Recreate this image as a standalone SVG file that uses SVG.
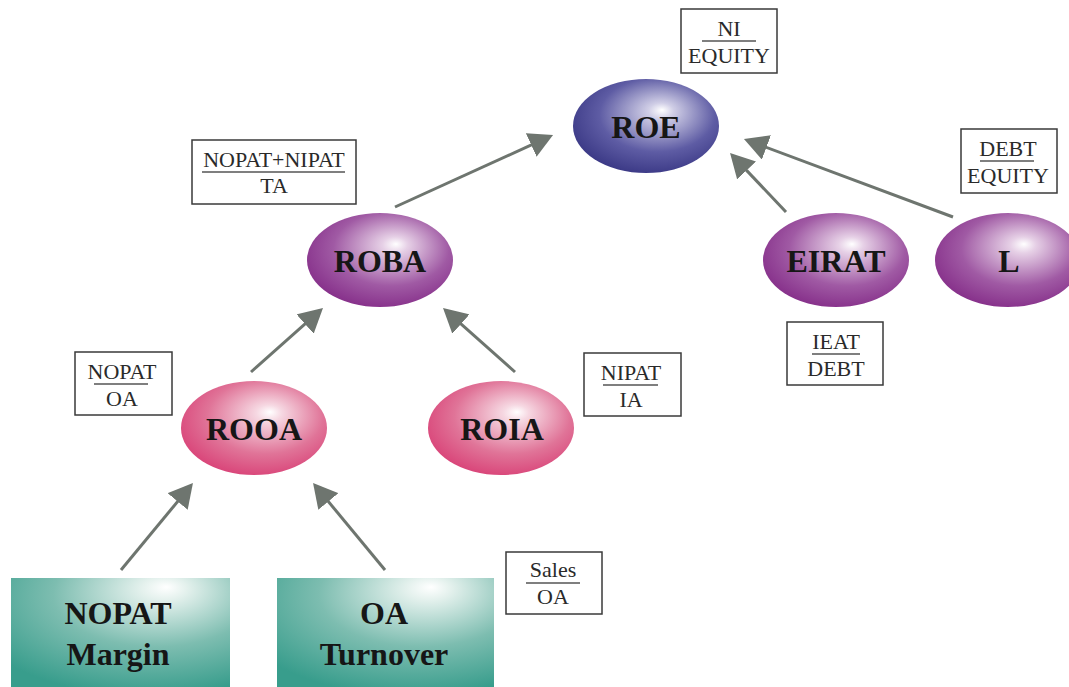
<svg xmlns="http://www.w3.org/2000/svg" width="1069" height="687" viewBox="0 0 1069 687">
  <style>
    .node-label { font-family: "Liberation Serif", "Times New Roman", serif; font-weight: bold; font-size: 32px; fill: #161616; text-anchor: middle; }
    .frac { font-family: "Liberation Serif", "Times New Roman", serif; font-size: 22px; fill: #2a2a2a; text-anchor: middle; }
    .box { fill: #ffffff; stroke: #3a3a3a; stroke-width: 1.5; }
    .bar { stroke: #555555; stroke-width: 1.3; }
    .conn { stroke: #6e756f; stroke-width: 3; fill: none; marker-end: url(#arrow); }
  </style>
  <defs>
    <marker id="arrow" viewBox="0 0 24 26" refX="20" refY="13" markerWidth="24" markerHeight="26" markerUnits="userSpaceOnUse" orient="auto">
      <path d="M0,0 L24,13 L0,26 Z" fill="#6e756f"/>
    </marker>
    <radialGradient id="gBlue" cx="0.55" cy="0.42" r="0.72" fx="0.61" fy="0.33">
      <stop offset="0" stop-color="#ffffff"/>
      <stop offset="0.12" stop-color="#d0cee6"/>
      <stop offset="0.55" stop-color="#5e5ca4"/>
      <stop offset="1" stop-color="#2a2877"/>
    </radialGradient>
    <radialGradient id="gPurple" cx="0.55" cy="0.42" r="0.72" fx="0.61" fy="0.33">
      <stop offset="0" stop-color="#ffffff"/>
      <stop offset="0.12" stop-color="#e6d0e6"/>
      <stop offset="0.55" stop-color="#a05aa4"/>
      <stop offset="1" stop-color="#7a1c7e"/>
    </radialGradient>
    <radialGradient id="gPink" cx="0.55" cy="0.42" r="0.72" fx="0.61" fy="0.33">
      <stop offset="0" stop-color="#ffffff"/>
      <stop offset="0.12" stop-color="#f6d8e2"/>
      <stop offset="0.55" stop-color="#e07498"/>
      <stop offset="1" stop-color="#d62e6a"/>
    </radialGradient>
    <radialGradient id="gTeal" cx="0.62" cy="0.2" r="0.85" fx="0.71" fy="0.08">
      <stop offset="0" stop-color="#ffffff"/>
      <stop offset="0.12" stop-color="#e4f1ed"/>
      <stop offset="0.55" stop-color="#7dbdb0"/>
      <stop offset="1" stop-color="#389d8c"/>
    </radialGradient>
  </defs>
  <rect width="1069" height="687" fill="#ffffff"/>

  <g id="connectors">
    <line class="conn" x1="395" y1="207" x2="549.4" y2="136.7"/>
    <line class="conn" x1="786" y1="212" x2="732.8" y2="155.9"/>
    <line class="conn" x1="953" y1="217" x2="747.7" y2="140.4"/>
    <line class="conn" x1="251" y1="372" x2="320.0" y2="310.7"/>
    <line class="conn" x1="515" y1="372" x2="446.0" y2="310.7"/>
    <line class="conn" x1="121" y1="570" x2="190.4" y2="486.1"/>
    <line class="conn" x1="385" y1="570" x2="315.6" y2="486.1"/>
  </g>

  <g id="node-roe">
    <ellipse cx="646" cy="126" rx="73" ry="47" fill="url(#gBlue)"/>
    <text class="node-label" x="646" y="138">ROE</text>
  </g>
  <g id="node-roba">
    <ellipse cx="380" cy="260" rx="73" ry="47" fill="url(#gPurple)"/>
    <text class="node-label" x="380" y="272">ROBA</text>
  </g>
  <g id="node-eirat">
    <ellipse cx="836" cy="260" rx="73" ry="47" fill="url(#gPurple)"/>
    <text class="node-label" x="836" y="272">EIRAT</text>
  </g>
  <g id="node-l">
    <ellipse cx="1008" cy="260" rx="73" ry="47" fill="url(#gPurple)"/>
    <text class="node-label" x="1009" y="272">L</text>
  </g>
  <g id="node-rooa">
    <ellipse cx="254" cy="428" rx="73" ry="47" fill="url(#gPink)"/>
    <text class="node-label" x="254" y="440">ROOA</text>
  </g>
  <g id="node-roia">
    <ellipse cx="501" cy="428" rx="73" ry="47" fill="url(#gPink)"/>
    <text class="node-label" x="502" y="440">ROIA</text>
  </g>
  <g id="node-nopat-margin">
    <rect x="11" y="578" width="219" height="112" fill="url(#gTeal)"/>
    <text class="node-label" x="118" y="624">NOPAT</text>
    <text class="node-label" x="118" y="665">Margin</text>
  </g>
  <g id="node-oa-turnover">
    <rect x="277" y="578" width="217" height="112" fill="url(#gTeal)"/>
    <text class="node-label" x="384" y="624">OA</text>
    <text class="node-label" x="384" y="665">Turnover</text>
  </g>

  <g id="label-roe">
    <rect class="box" x="681" y="9" width="96" height="64"/>
    <text class="frac" x="729" y="36">NI</text>
    <line class="bar" x1="702" y1="41" x2="756" y2="41"/>
    <text class="frac" x="729" y="63">EQUITY</text>
  </g>
  <g id="label-roba">
    <rect class="box" x="192" y="140" width="164" height="64"/>
    <text class="frac" x="274" y="167">NOPAT+NIPAT</text>
    <line class="bar" x1="202" y1="172" x2="345" y2="172"/>
    <text class="frac" x="274" y="193">TA</text>
  </g>
  <g id="label-l">
    <rect class="box" x="961" y="129" width="96" height="64"/>
    <text class="frac" x="1008" y="156">DEBT</text>
    <line class="bar" x1="980" y1="161" x2="1034" y2="161"/>
    <text class="frac" x="1008" y="183">EQUITY</text>
  </g>
  <g id="label-eirat">
    <rect class="box" x="787" y="322" width="96" height="63"/>
    <text class="frac" x="836" y="349">IEAT</text>
    <line class="bar" x1="812" y1="354" x2="860" y2="354"/>
    <text class="frac" x="836" y="376">DEBT</text>
  </g>
  <g id="label-rooa">
    <rect class="box" x="75" y="352" width="97" height="63"/>
    <text class="frac" x="122" y="379">NOPAT</text>
    <line class="bar" x1="94" y1="384" x2="148" y2="384"/>
    <text class="frac" x="122" y="406">OA</text>
  </g>
  <g id="label-roia">
    <rect class="box" x="584" y="353" width="97" height="63"/>
    <text class="frac" x="631" y="380">NIPAT</text>
    <line class="bar" x1="603" y1="385" x2="658" y2="385"/>
    <text class="frac" x="631" y="407">IA</text>
  </g>
  <g id="label-oa-turnover">
    <rect class="box" x="506" y="552" width="96" height="62"/>
    <text class="frac" x="553" y="577">Sales</text>
    <line class="bar" x1="526" y1="583" x2="580" y2="583"/>
    <text class="frac" x="553" y="604">OA</text>
  </g>
</svg>
